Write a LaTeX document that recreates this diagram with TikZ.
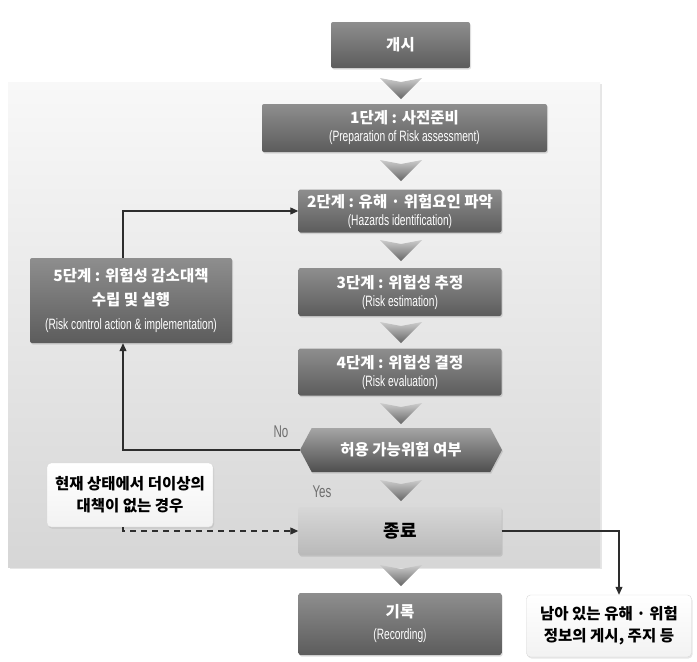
\documentclass[tikz,border=0pt]{standalone}
\usepackage{fontspec}
\setmainfont{Noto Sans CJK KR}
\newfontfamily\engfont[FakeStretch=0.68]{Liberation Sans}
\usetikzlibrary{
  arrows.meta,
  shapes.symbols,
  shadows,
  positioning
}
\definecolor{boxtop}{RGB}{142,142,142}
\definecolor{boxbot}{RGB}{92,92,92}
\definecolor{endtop}{RGB}{215,215,215}
\definecolor{endbot}{RGB}{185,185,185}
\definecolor{paneltop}{RGB}{248,248,248}
\definecolor{panelbot}{RGB}{214,214,214}
\definecolor{lineclr}{RGB}{45,45,45}
\definecolor{labclr}{RGB}{110,110,110}
\newcommand\krtext{\fontsize{15.5}{18}\selectfont\bfseries}
\newcommand\entext{\engfont\fontsize{15}{18}\selectfont}
\tikzset{
  % 단계 상자
  stepbox/.style  = {rounded corners=2pt, top color=boxtop, bottom color=boxbot,
                     text=white, align=center, inner sep=1pt,
                     font=\fontsize{15.5}{18}\selectfont,
                     drop shadow={opacity=0.25, shadow xshift=1pt, shadow yshift=-1.5pt}},
  endbox/.style   = {stepbox, top color=endtop, bottom color=endbot, text=black},
  decbox/.style   = {signal, signal to=west and east, signal pointer angle=124,
                     top color=boxtop!80, bottom color=boxbot!85!black, text=white,
                     inner sep=1pt, minimum width=202pt, minimum height=44pt,
                     drop shadow={opacity=0.25, shadow xshift=1pt, shadow yshift=-1.5pt}},
  % 설명 상자
  notebox/.style  = {rounded corners=4pt, top color=white, bottom color=gray!10,
                     draw=gray!30, align=center, inner sep=1pt,
                     font=\fontsize{15.5}{22}\selectfont,
                     drop shadow={opacity=0.2, shadow xshift=1pt, shadow yshift=-1.5pt}},
  % 연결선
  conn/.style     = {draw=lineclr, line width=1.1pt, -{Triangle[length=8pt,width=7pt]}},
  dashconn/.style = {conn, dash pattern=on 6pt off 5pt},
  yesno/.style    = {text=labclr, font=\engfont\fontsize{17}{17}\selectfont},
  % 화살표 모양
  chev/.pic       = {
    \shade[top color=gray!40, bottom color=gray!80!black]
      (-21,0) -- (0,4) -- (21,0) -- (0,21) -- cycle;
  },
}

\begin{document}
\begin{tikzpicture}[x=1pt,y=-1pt]
  \useasboundingbox (0,0) rectangle (697,662);
  % 배경 판
  \shade[top color=paneltop, bottom color=panelbot,
         drop shadow={opacity=0.2, shadow xshift=2pt, shadow yshift=-2pt}]
    (8,82) rectangle (600,567);
  % 단계 상자
  \node[stepbox, minimum width=139pt, minimum height=46pt] (start) at (400.5,45)
    {\krtext 개시};
  \node[stepbox, minimum width=285pt, minimum height=48pt] (step1) at (404.5,128)
    {{\krtext 1단계 : 사전준비}\\{\entext (Preparation of Risk assessment)}};
  \node[stepbox, minimum width=203pt, minimum height=43pt] (step2) at (400,211)
    {{\krtext 2단계 : 유해 · 위험요인 파악}\\{\entext (Hazards identification)}};
  \node[stepbox, minimum width=203pt, minimum height=48pt] (step3) at (400,292)
    {{\krtext 3단계 : 위험성 추정}\\{\entext (Risk estimation)}};
  \node[stepbox, minimum width=203pt, minimum height=47pt] (step4) at (400,372)
    {{\krtext 4단계 : 위험성 결정}\\{\entext (Risk evaluation)}};
  \node[decbox] (decide) at (401,450) {\krtext 허용 가능위험 여부};
  \node[endbox, minimum width=203pt, minimum height=48pt] (finish) at (400,531)
    {\fontsize{18}{20}\selectfont\bfseries 종료};
  \node[stepbox, minimum width=203pt, minimum height=62pt,
        font=\fontsize{15.5}{22}\selectfont] (record) at (400,624)
    {{\krtext 기록}\\{\entext (Recording)}};
  \node[stepbox, minimum width=202pt, minimum height=85pt,
        font=\fontsize{15.5}{24}\selectfont] (step5) at (131,300.5)
    {{\krtext 5단계 : 위험성 감소대책}\\{\krtext 수립 및 실행}\\{\entext (Risk control action \& implementation)}};
  % 설명 상자
  \node[notebox, minimum width=166pt, minimum height=64pt] (nomore) at (130,495)
    {{\krtext 현재 상태에서 더이상의}\\{\krtext 대책이 없는 경우}};
  \node[notebox, minimum width=165pt, minimum height=62pt] (remain) at (609,626)
    {{\krtext 남아 있는 유해 · 위험}\\{\krtext 정보의 게시, 주지 등}};
  % 아래쪽 화살표
  \foreach \y in {78,160,240,322,403,480,565}
    \pic at (401,\y) {chev};
  % 연결선
  \coordinate (loopx) at (123,0);
  \coordinate (sidex) at (619,0);
  \draw[conn] (decide.west) -| (loopx |- step5.south);
  \draw[conn] (loopx |- step5.north) |- (step2.west);
  \draw[dashconn] (loopx |- nomore.south) |- (finish.west);
  \draw[conn] (finish.east) -| (sidex |- remain.north);
  % 라벨
  \node[yesno] (nolab) at (281,432) {No};
  \node[yesno] (yeslab) at (322,492) {Yes};
\end{tikzpicture}
\end{document}
